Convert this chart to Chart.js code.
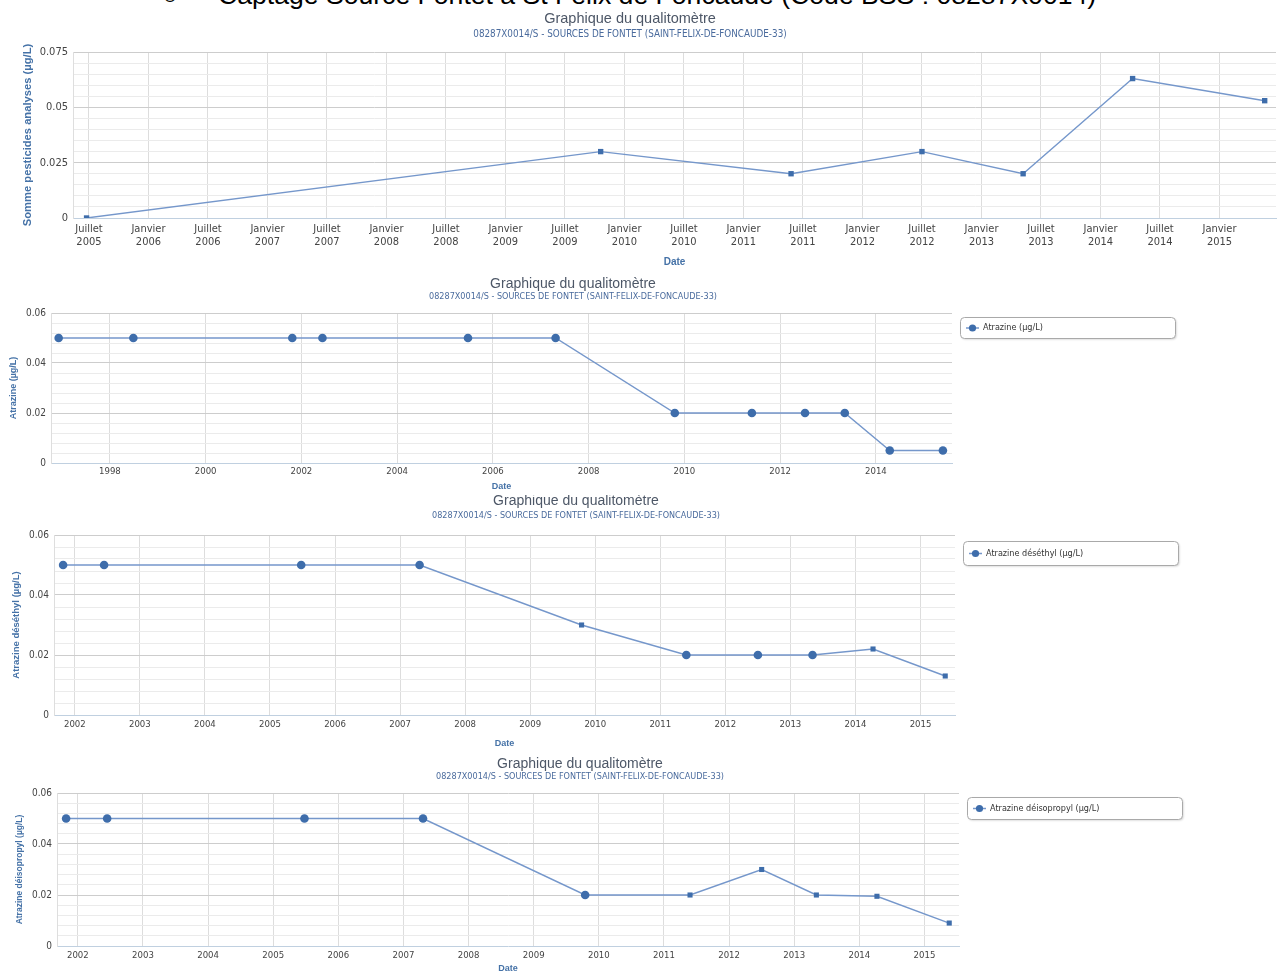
<!DOCTYPE html>
<html lang="fr">
<head>
<meta charset="utf-8">
<title>Qualitomètre 08287X0014/S – Sources de Fontet</title>
<script src="https://cdn.jsdelivr.net/npm/chart.js@4.4.1/dist/chart.umd.min.js"></script>
<style>
  html, body { margin: 0; padding: 0; background: #fff; }
  body { position: relative; width: 1280px; height: 974px; overflow: hidden; font-family: "Liberation Sans", Arial, sans-serif; }
  .heading { position: absolute; top: -18.5px; font-size: 26.6px; line-height: 26.6px; color: #000; white-space: nowrap; }
  .panel { position: absolute; left: 0; width: 1280px; }
</style>
</head>
<body>
<div class="heading" style="left:162px">○</div>
<div class="heading" style="left:218px">Captage Source Fontet à St Felix de Foncaude (Code BSS : 08287X0014)</div>

<div class="panel" style="top:0;height:270px"><canvas id="chartSum"></canvas></div>
<div class="panel" style="top:270px;height:225px"><canvas id="chartAtrazine"></canvas></div>
<div class="panel" style="top:495px;height:255px"><canvas id="chartDesethyl"></canvas></div>
<div class="panel" style="top:750px;height:224px"><canvas id="chartDesisopropyl"></canvas></div>

<script>
// ---- Station / titles ----
const chartTitle = 'Graphique du qualitomètre';
const stationLabel = '08287X0014/S - SOURCES DE FONTET (SAINT-FELIX-DE-FONCAUDE-33)';

// ---- Somme des pesticides analysés (dates in decimal years) ----
const sumDates  = [2005.48, 2009.80, 2011.40, 2012.50, 2013.35, 2014.27, 2015.38];
const sumValues = [0, 0.03, 0.02, 0.03, 0.02, 0.063, 0.053];

// ---- Atrazine ----
const atrazineDates  = [1996.93, 1998.49, 2001.81, 2002.44, 2005.48, 2007.31, 2009.80, 2011.41, 2012.52, 2013.35, 2014.29, 2015.40];
const atrazineValues = [0.05, 0.05, 0.05, 0.05, 0.05, 0.05, 0.02, 0.02, 0.02, 0.02, 0.005, 0.005];

// ---- Atrazine déséthyl ----
const desethylDates      = [2001.82, 2002.45, 2005.48, 2007.30, 2009.79, 2011.40, 2012.50, 2013.34, 2014.27, 2015.38];
const desethylValues     = [0.05, 0.05, 0.05, 0.05, 0.03, 0.02, 0.02, 0.02, 0.022, 0.013];
const desethylQuantified = [false, false, false, false, true, false, false, false, true, true];

// ---- Atrazine déisopropyl ----
const desisoDates      = [2001.82, 2002.45, 2005.48, 2007.30, 2009.79, 2011.40, 2012.50, 2013.34, 2014.27, 2015.38];
const desisoValues     = [0.05, 0.05, 0.05, 0.05, 0.02, 0.02, 0.03, 0.02, 0.0195, 0.009];
const desisoQuantified = [false, false, false, false, false, true, true, true, true, true];

// ---- X tick positions and labels ----
const semesterTicks = [2005.5, 2006, 2006.5, 2007, 2007.5, 2008, 2008.5, 2009, 2009.5, 2010,
                       2010.5, 2011, 2011.5, 2012, 2012.5, 2013, 2013.5, 2014, 2014.5, 2015];
const semesterLabels = [
  ['Juillet', '2005'], ['Janvier', '2006'], ['Juillet', '2006'], ['Janvier', '2007'],
  ['Juillet', '2007'], ['Janvier', '2008'], ['Juillet', '2008'], ['Janvier', '2009'],
  ['Juillet', '2009'], ['Janvier', '2010'], ['Juillet', '2010'], ['Janvier', '2011'],
  ['Juillet', '2011'], ['Janvier', '2012'], ['Juillet', '2012'], ['Janvier', '2013'],
  ['Juillet', '2013'], ['Janvier', '2014'], ['Juillet', '2014'], ['Janvier', '2015']
];
const evenYearTicks  = [1998, 2000, 2002, 2004, 2006, 2008, 2010, 2012, 2014];
const evenYearLabels = ['1998', '2000', '2002', '2004', '2006', '2008', '2010', '2012', '2014'];
const yearTicks  = [2002, 2003, 2004, 2005, 2006, 2007, 2008, 2009, 2010, 2011, 2012, 2013, 2014, 2015];
const yearLabels = ['2002', '2003', '2004', '2005', '2006', '2007', '2008', '2009', '2010', '2011', '2012', '2013', '2014', '2015'];

// ---- Look ----
const NARROW = '"Liberation Sans Narrow", "DejaVu Sans Condensed", "Roboto Condensed", "Liberation Sans", sans-serif';
const SANS = '"Liberation Sans", "DejaVu Sans", Arial, sans-serif';
const LINE_COLOR = '#7597cb';
const MARKER_COLOR = '#3e6dab';
const AXIS_TITLE_COLOR = '#4572a7';

// Title + station subtitle drawn at fixed canvas positions
const headerPlugin = {
  id: 'header',
  afterDraw(chart, args, o) {
    const ctx = chart.ctx;
    ctx.save();
    ctx.textAlign = 'center';
    ctx.textBaseline = 'middle';
    ctx.fillStyle = '#4d5767';
    ctx.font = o.titleFont;
    ctx.fillText(chartTitle, o.x, o.titleY);
    ctx.fillStyle = '#4a6b9d';
    ctx.font = o.subFont;
    ctx.fillText(stationLabel, o.x, o.subY);
    ctx.restore();
  }
};

// Framed legend on the right, built from the dataset
const legendBoxPlugin = {
  id: 'legendBox',
  afterDraw(chart, args, o) {
    if (!o || !o.display) return;
    const ds = chart.data.datasets[0];
    const ctx = chart.ctx;
    const { x, y, w, h } = o;
    ctx.save();
    ctx.shadowColor = 'rgba(0,0,0,0.18)';
    ctx.shadowOffsetX = 1;
    ctx.shadowOffsetY = 1;
    ctx.shadowBlur = 2;
    ctx.beginPath();
    ctx.roundRect(x + 0.5, y + 0.5, w, h, 4);
    ctx.fillStyle = '#fff';
    ctx.fill();
    ctx.shadowColor = 'transparent';
    ctx.strokeStyle = '#a9a9a9';
    ctx.lineWidth = 1;
    ctx.stroke();
    const cy = y + h / 2 + 0.5;
    ctx.strokeStyle = ds.borderColor;
    ctx.lineWidth = 1.5;
    ctx.beginPath();
    ctx.moveTo(x + 6, cy);
    ctx.lineTo(x + 19, cy);
    ctx.stroke();
    ctx.fillStyle = MARKER_COLOR;
    ctx.beginPath();
    ctx.arc(x + 12.5, cy, 3.6, 0, Math.PI * 2);
    ctx.fill();
    ctx.fillStyle = '#333';
    ctx.font = o.font;
    ctx.textAlign = 'left';
    ctx.textBaseline = 'middle';
    ctx.fillText(ds.label, x + 23, cy);
    ctx.restore();
  }
};

function fmtValue(v) {
  return String(Number(v.toFixed(4)));
}

function makeChart(id, c) {
  const points = c.dates.map((d, i) => ({ x: d, y: c.values[i] }));
  const quantified = c.quantified || c.values.map(() => c.defaultQuantified);
  const nSteps = Math.round(c.yMax / c.yStep);
  const yTickValues = Array.from({ length: nSteps + 1 }, (_, i) => +(i * c.yStep).toFixed(5));
  const isMajor = v => Math.abs(v / c.yMajor - Math.round(v / c.yMajor)) < 1e-6;
  const yTitleLH = c.yTitleSize * 1.2;
  const xTitleLH = c.xTitleSize * 1.2;

  return new Chart(document.getElementById(id), {
    type: 'scatter',
    data: {
      datasets: [{
        label: c.label,
        data: points,
        showLine: true,
        borderColor: LINE_COLOR,
        borderWidth: 1.4,
        tension: 0,
        fill: false,
        pointStyle: quantified.map(q => q ? 'rect' : 'circle'),
        pointRadius: quantified.map(q => q ? c.rectRadius : 4.3),
        pointBackgroundColor: MARKER_COLOR,
        pointBorderWidth: 0
      }]
    },
    options: {
      responsive: true,
      maintainAspectRatio: false,
      devicePixelRatio: 1,
      animation: false,
      events: [],
      layout: { padding: { left: 0, top: c.area.top, right: c.area.right, bottom: 0 } },
      plugins: {
        legend: { display: false },
        tooltip: { enabled: false },
        header: c.header,
        legendBox: c.legend || { display: false }
      },
      scales: {
        x: {
          type: 'linear',
          min: c.xMin,
          max: c.xMax,
          afterBuildTicks: s => { s.ticks = c.xTicks.map(v => ({ value: v })); },
          afterFit: s => { s.height = c.xAxisHeight; },
          ticks: {
            autoSkip: false,
            maxRotation: 0,
            minRotation: 0,
            padding: c.xTickPad,
            color: '#444',
            font: { family: NARROW, size: c.xTickSize, lineHeight: 1.15 },
            callback: (v, i) => c.xLabels[i]
          },
          grid: { color: '#dddddd', lineWidth: 1, drawTicks: false },
          border: { color: '#c0d0e0', width: 1 },
          title: {
            display: true,
            text: 'Date',
            color: AXIS_TITLE_COLOR,
            font: { family: SANS, size: c.xTitleSize, weight: 'bold', lineHeight: 1.2 },
            padding: { top: 0, bottom: Math.max(0, c.canvasHeight - c.xTitleY - xTitleLH / 2) }
          }
        },
        y: {
          min: 0,
          max: c.yMax,
          afterBuildTicks: s => { s.ticks = yTickValues.map(v => ({ value: v })); },
          afterFit: s => { s.width = c.yAxisWidth; },
          ticks: {
            autoSkip: false,
            padding: 5,
            color: '#444',
            font: { family: NARROW, size: c.yTickSize },
            callback: v => isMajor(v) ? fmtValue(v) : ''
          },
          grid: {
            drawTicks: false,
            color: ctx => {
              const v = ctx.tick.value;
              if (v === 0) return 'rgba(0,0,0,0)';
              return isMajor(v) ? '#cdcdcd' : '#ebebeb';
            },
            lineWidth: 1
          },
          border: { color: '#dedede', width: 1 },
          title: {
            display: true,
            text: c.yTitle,
            color: AXIS_TITLE_COLOR,
            font: { family: SANS, size: c.yTitleSize, weight: 'bold', lineHeight: 1.2 },
            padding: { top: c.yTitleX - yTitleLH / 2, bottom: 0 }
          }
        }
      }
    },
    plugins: [headerPlugin, legendBoxPlugin]
  });
}

// Somme des pesticides analysés
makeChart('chartSum', {
  label: 'Somme pesticides analyses (µg/L)',
  dates: sumDates, values: sumValues, defaultQuantified: true, rectRadius: 3.8,
  canvasHeight: 270,
  area: { top: 52, right: 3 },
  yAxisWidth: 73, xAxisHeight: 52,
  xMin: 2005.366, xMax: 2015.475, xTicks: semesterTicks, xLabels: semesterLabels,
  xTickPad: 5, xTickSize: 11,
  yMax: 0.075, yStep: 0.005, yMajor: 0.025, yTickSize: 11,
  yTitle: 'Somme pesticides analyses (µg/L)', yTitleSize: 11.2, yTitleX: 28,
  xTitleSize: 10, xTitleY: 262,
  header: { x: 630, titleY: 19, subY: 34, titleFont: '14.5px ' + SANS, subFont: '9.8px ' + NARROW }
});

// Atrazine
makeChart('chartAtrazine', {
  label: 'Atrazine (µg/L)',
  dates: atrazineDates, values: atrazineValues, defaultQuantified: false, rectRadius: 3.6,
  canvasHeight: 225,
  area: { top: 43, right: 328 },
  yAxisWidth: 51, xAxisHeight: 32,
  xMin: 1996.77, xMax: 2015.59, xTicks: evenYearTicks, xLabels: evenYearLabels,
  xTickPad: 3, xTickSize: 9.5,
  yMax: 0.06, yStep: 0.004, yMajor: 0.02, yTickSize: 10,
  yTitle: 'Atrazine (µg/L)', yTitleSize: 9, yTitleX: 14,
  xTitleSize: 9, xTitleY: 217,
  header: { x: 573, titleY: 14, subY: 27, titleFont: '14px ' + SANS, subFont: '9px ' + NARROW },
  legend: { display: true, x: 960, y: 47, w: 215, h: 21, font: '9px ' + NARROW }
});

// Atrazine déséthyl
makeChart('chartDesethyl', {
  label: 'Atrazine déséthyl (µg/L)',
  dates: desethylDates, values: desethylValues, quantified: desethylQuantified, rectRadius: 3.6,
  canvasHeight: 255,
  area: { top: 40, right: 325 },
  yAxisWidth: 54, xAxisHeight: 35,
  xMin: 2001.68, xMax: 2015.53, xTicks: yearTicks, xLabels: yearLabels,
  xTickPad: 4, xTickSize: 9.5,
  yMax: 0.06, yStep: 0.004, yMajor: 0.02, yTickSize: 10,
  yTitle: 'Atrazine déséthyl (µg/L)', yTitleSize: 9.5, yTitleX: 16,
  xTitleSize: 9, xTitleY: 249,
  header: { x: 576, titleY: 6, subY: 21, titleFont: '14px ' + SANS, subFont: '9px ' + NARROW },
  legend: { display: true, x: 963, y: 46, w: 215, h: 24, font: '9px ' + NARROW }
});

// Atrazine déisopropyl
makeChart('chartDesisopropyl', {
  label: 'Atrazine déisopropyl (µg/L)',
  dates: desisoDates, values: desisoValues, quantified: desisoQuantified, rectRadius: 3.6,
  canvasHeight: 224,
  area: { top: 43, right: 321 },
  yAxisWidth: 57, xAxisHeight: 28,
  xMin: 2001.68, xMax: 2015.53, xTicks: yearTicks, xLabels: yearLabels,
  xTickPad: 4, xTickSize: 9.5,
  yMax: 0.06, yStep: 0.004, yMajor: 0.02, yTickSize: 10,
  yTitle: 'Atrazine déisopropyl (µg/L)', yTitleSize: 8.5, yTitleX: 20,
  xTitleSize: 9, xTitleY: 219,
  header: { x: 580, titleY: 14, subY: 27, titleFont: '14px ' + SANS, subFont: '9px ' + NARROW },
  legend: { display: true, x: 967, y: 47, w: 215, h: 22, font: '9px ' + NARROW }
});
</script>
</body>
</html>
